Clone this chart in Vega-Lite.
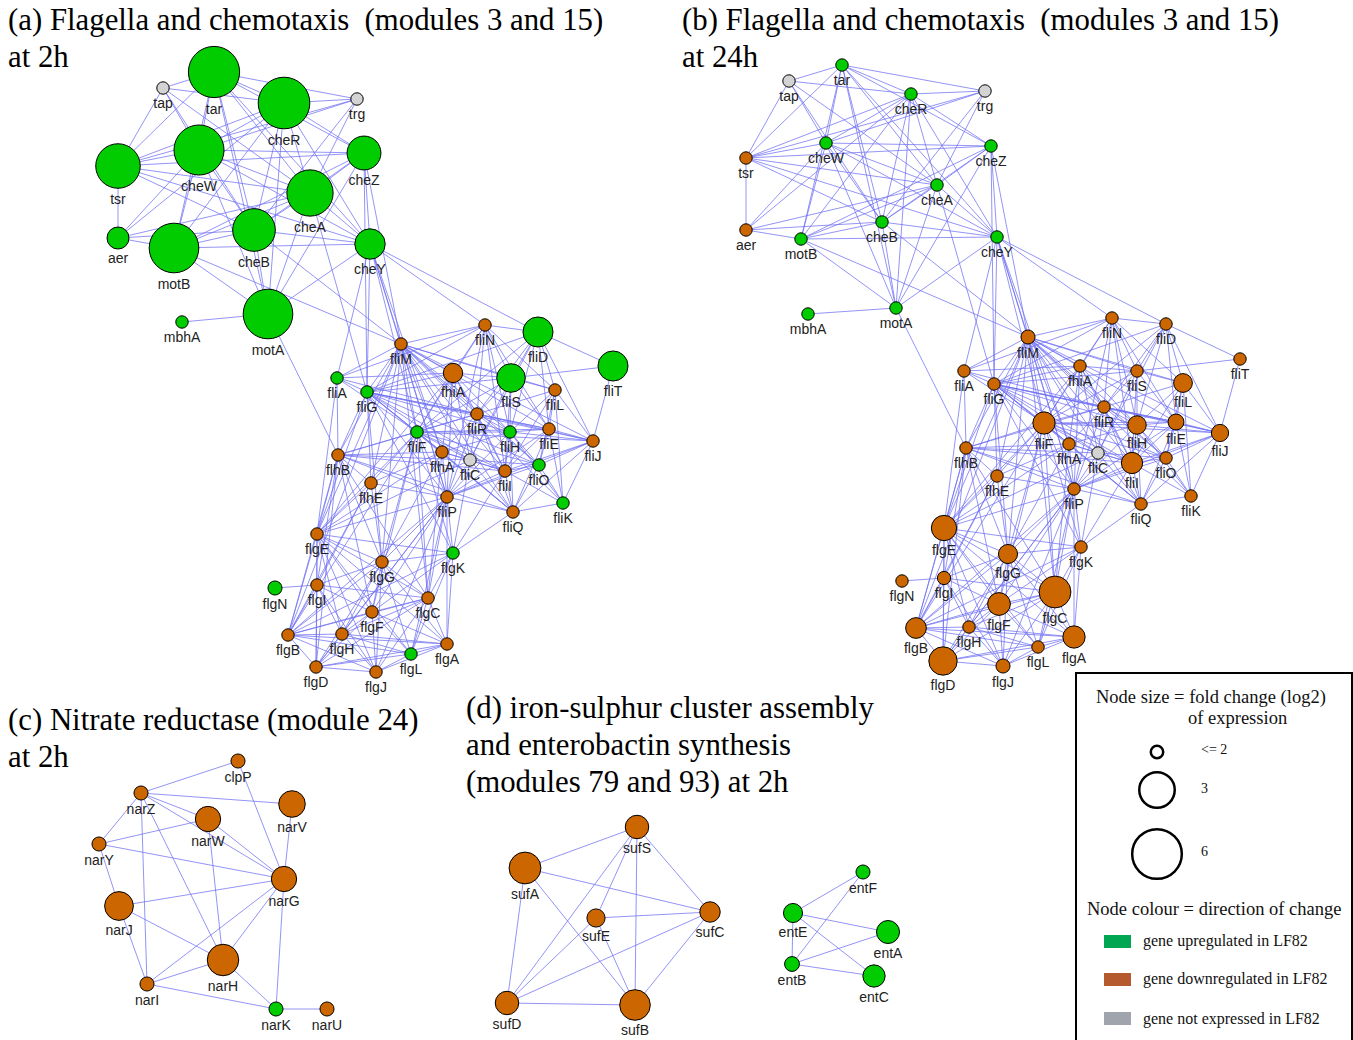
{
"$schema":"https://vega.github.io/schema/vega-lite/v6.json",
"width":1353,"height":1040,
"autosize":"none",
"padding":0,
"background":"white",
"config":{"view":{"stroke":null}},
"datasets":{
"nodes":[
{"id":"a_tap","x":163,"y":88,"fc":2,"c":"none"},
{"id":"a_tar","x":214,"y":72,"fc":6.4,"c":"up"},
{"id":"a_cheR","x":284,"y":103,"fc":6.5,"c":"up"},
{"id":"a_trg","x":357,"y":99,"fc":2,"c":"none"},
{"id":"a_cheW","x":199,"y":150,"fc":6.1,"c":"up"},
{"id":"a_tsr","x":118,"y":166,"fc":4.8,"c":"up"},
{"id":"a_cheZ","x":364,"y":153,"fc":2.9,"c":"up"},
{"id":"a_cheA","x":310,"y":193,"fc":5.2,"c":"up"},
{"id":"a_cheB","x":254,"y":230,"fc":4.4,"c":"up"},
{"id":"a_aer","x":118,"y":238,"fc":2.3,"c":"up"},
{"id":"a_motB","x":174,"y":248,"fc":6,"c":"up"},
{"id":"a_cheY","x":370,"y":244,"fc":2.7,"c":"up"},
{"id":"a_mbhA","x":182,"y":322,"fc":2,"c":"up"},
{"id":"a_motA","x":268,"y":314,"fc":6,"c":"up"},
{"id":"a_fliN","x":485,"y":325,"fc":2,"c":"down"},
{"id":"a_fliM","x":401,"y":344,"fc":2,"c":"down"},
{"id":"a_fliD","x":538,"y":332,"fc":2.68,"c":"up"},
{"id":"a_fliT","x":613,"y":366,"fc":2.68,"c":"up"},
{"id":"a_fliA","x":337,"y":378,"fc":2,"c":"up"},
{"id":"a_fliG","x":367,"y":392,"fc":2,"c":"up"},
{"id":"a_fhiA","x":453,"y":373,"fc":2.2,"c":"down"},
{"id":"a_fliS","x":511,"y":378,"fc":2.6,"c":"up"},
{"id":"a_fliL","x":555,"y":390,"fc":2,"c":"down"},
{"id":"a_fliR","x":477,"y":414,"fc":2,"c":"down"},
{"id":"a_fliF","x":417,"y":432,"fc":2,"c":"up"},
{"id":"a_fliH","x":510,"y":432,"fc":2,"c":"up"},
{"id":"a_fliE","x":549,"y":429,"fc":2,"c":"down"},
{"id":"a_fliJ","x":593,"y":441,"fc":2,"c":"down"},
{"id":"a_flhB","x":338,"y":455,"fc":2,"c":"down"},
{"id":"a_flhA","x":442,"y":452,"fc":2,"c":"down"},
{"id":"a_fliC","x":470,"y":460,"fc":2,"c":"none"},
{"id":"a_fliI","x":505,"y":471,"fc":2,"c":"down"},
{"id":"a_fliO","x":539,"y":465,"fc":2,"c":"up"},
{"id":"a_flhE","x":371,"y":483,"fc":2,"c":"down"},
{"id":"a_fliP","x":447,"y":497,"fc":2,"c":"down"},
{"id":"a_fliQ","x":513,"y":512,"fc":2,"c":"down"},
{"id":"a_fliK","x":563,"y":503,"fc":2,"c":"up"},
{"id":"a_flgE","x":317,"y":534,"fc":2,"c":"down"},
{"id":"a_flgK","x":453,"y":553,"fc":2,"c":"up"},
{"id":"a_flgG","x":382,"y":562,"fc":2,"c":"down"},
{"id":"a_flgN","x":275,"y":588,"fc":2.04,"c":"up"},
{"id":"a_flgI","x":317,"y":585,"fc":2,"c":"down"},
{"id":"a_flgC","x":428,"y":598,"fc":2,"c":"down"},
{"id":"a_flgF","x":372,"y":612,"fc":2,"c":"down"},
{"id":"a_flgB","x":288,"y":635,"fc":2,"c":"down"},
{"id":"a_flgH","x":342,"y":634,"fc":2,"c":"down"},
{"id":"a_flgA","x":447,"y":644,"fc":2,"c":"down"},
{"id":"a_flgL","x":411,"y":654,"fc":2,"c":"up"},
{"id":"a_flgD","x":316,"y":667,"fc":2,"c":"down"},
{"id":"a_flgJ","x":376,"y":672,"fc":2,"c":"down"},
{"id":"b_tar","x":842,"y":65,"fc":2,"c":"up"},
{"id":"b_tap","x":789,"y":81,"fc":2,"c":"none"},
{"id":"b_cheR","x":911,"y":94,"fc":2,"c":"up"},
{"id":"b_trg","x":985,"y":91,"fc":2,"c":"none"},
{"id":"b_cheW","x":826,"y":143,"fc":2,"c":"up"},
{"id":"b_tsr","x":746,"y":158,"fc":2,"c":"down"},
{"id":"b_cheZ","x":991,"y":146,"fc":2,"c":"up"},
{"id":"b_cheA","x":937,"y":185,"fc":2,"c":"up"},
{"id":"b_cheB","x":882,"y":222,"fc":2,"c":"up"},
{"id":"b_aer","x":746,"y":230,"fc":2,"c":"down"},
{"id":"b_motB","x":801,"y":239,"fc":2,"c":"up"},
{"id":"b_cheY","x":997,"y":237,"fc":2,"c":"up"},
{"id":"b_mbhA","x":808,"y":314,"fc":2,"c":"up"},
{"id":"b_motA","x":896,"y":308,"fc":2,"c":"up"},
{"id":"b_fliN","x":1112,"y":318,"fc":2,"c":"down"},
{"id":"b_fliD","x":1166,"y":324,"fc":2,"c":"down"},
{"id":"b_fliT","x":1240,"y":359,"fc":2,"c":"down"},
{"id":"b_fliM","x":1028,"y":337,"fc":2.04,"c":"down"},
{"id":"b_fliA","x":964,"y":371,"fc":2,"c":"down"},
{"id":"b_fliG","x":994,"y":384,"fc":2,"c":"down"},
{"id":"b_fhiA","x":1080,"y":366,"fc":2,"c":"down"},
{"id":"b_fliS","x":1137,"y":371,"fc":2,"c":"down"},
{"id":"b_fliL","x":1183,"y":383,"fc":2.18,"c":"down"},
{"id":"b_fliR","x":1104,"y":407,"fc":2,"c":"down"},
{"id":"b_fliF","x":1044,"y":423,"fc":2.31,"c":"down"},
{"id":"b_fliH","x":1137,"y":425,"fc":2.17,"c":"down"},
{"id":"b_fliE","x":1176,"y":422,"fc":2.09,"c":"down"},
{"id":"b_fliJ","x":1220,"y":433,"fc":2.13,"c":"down"},
{"id":"b_flhB","x":966,"y":448,"fc":2,"c":"down"},
{"id":"b_flhA","x":1069,"y":444,"fc":2,"c":"down"},
{"id":"b_fliC","x":1098,"y":453,"fc":2,"c":"none"},
{"id":"b_fliI","x":1132,"y":463,"fc":2.27,"c":"down"},
{"id":"b_fliO","x":1166,"y":458,"fc":2,"c":"down"},
{"id":"b_flhE","x":997,"y":476,"fc":2,"c":"down"},
{"id":"b_fliP","x":1074,"y":489,"fc":2,"c":"down"},
{"id":"b_fliQ","x":1141,"y":504,"fc":2,"c":"down"},
{"id":"b_fliK","x":1191,"y":496,"fc":2,"c":"down"},
{"id":"b_flgE","x":944,"y":528,"fc":2.44,"c":"down"},
{"id":"b_flgK","x":1081,"y":547,"fc":2,"c":"down"},
{"id":"b_flgG","x":1008,"y":554,"fc":2.19,"c":"down"},
{"id":"b_flgN","x":902,"y":581,"fc":2,"c":"down"},
{"id":"b_flgI","x":944,"y":578,"fc":2.02,"c":"down"},
{"id":"b_flgC","x":1055,"y":592,"fc":2.78,"c":"down"},
{"id":"b_flgF","x":999,"y":604,"fc":2.33,"c":"down"},
{"id":"b_flgB","x":916,"y":628,"fc":2.25,"c":"down"},
{"id":"b_flgH","x":969,"y":627,"fc":2,"c":"down"},
{"id":"b_flgA","x":1074,"y":637,"fc":2.31,"c":"down"},
{"id":"b_flgL","x":1038,"y":647,"fc":2,"c":"down"},
{"id":"b_flgD","x":943,"y":661,"fc":2.59,"c":"down"},
{"id":"b_flgJ","x":1003,"y":666,"fc":2.04,"c":"down"},
{"id":"c_clpP","x":238,"y":761,"fc":2.04,"c":"down"},
{"id":"c_narZ","x":141,"y":793,"fc":2.04,"c":"down"},
{"id":"c_narV","x":292,"y":804,"fc":2.5,"c":"down"},
{"id":"c_narW","x":208,"y":819,"fc":2.44,"c":"down"},
{"id":"c_narY","x":99,"y":844,"fc":2.04,"c":"down"},
{"id":"c_narG","x":284,"y":879,"fc":2.44,"c":"down"},
{"id":"c_narJ","x":119,"y":906,"fc":2.61,"c":"down"},
{"id":"c_narH","x":223,"y":960,"fc":2.76,"c":"down"},
{"id":"c_narI","x":147,"y":984,"fc":2.04,"c":"down"},
{"id":"c_narK","x":276,"y":1009,"fc":2.04,"c":"up"},
{"id":"c_narU","x":327,"y":1009,"fc":2.04,"c":"down"},
{"id":"d_sufS","x":637,"y":827,"fc":2.36,"c":"down"},
{"id":"d_sufA","x":525,"y":868,"fc":2.78,"c":"down"},
{"id":"d_sufE","x":596,"y":918,"fc":2.16,"c":"down"},
{"id":"d_sufC","x":710,"y":912,"fc":2.24,"c":"down"},
{"id":"d_sufD","x":507,"y":1003,"fc":2.36,"c":"down"},
{"id":"d_sufB","x":635,"y":1005,"fc":2.71,"c":"down"},
{"id":"d_entF","x":863,"y":872,"fc":2.04,"c":"up"},
{"id":"d_entE","x":793,"y":913,"fc":2.19,"c":"up"},
{"id":"d_entA","x":888,"y":932,"fc":2.34,"c":"up"},
{"id":"d_entB","x":792,"y":964,"fc":2.06,"c":"up"},
{"id":"d_entC","x":874,"y":976,"fc":2.31,"c":"up"}
],
"flagEdges":[
{"s":"tap","t":["tar","cheR","cheW","tsr","cheA","cheB"]},
{"s":"tar","t":["cheR","cheW","tsr","cheZ","cheA","cheB","cheY","motB","motA","trg"]},
{"s":"cheR","t":["trg","cheW","tsr","cheZ","cheA","cheB","cheY","motB","motA","aer"]},
{"s":"trg","t":["cheW","cheA","cheB","tsr"]},
{"s":"cheW","t":["tsr","cheZ","cheA","cheB","cheY","motB","motA","aer"]},
{"s":"tsr","t":["aer","cheA","cheB","cheY","cheZ"]},
{"s":"cheZ","t":["cheA","cheB","cheY","motB","motA","fliM","fliG"]},
{"s":"cheA","t":["cheB","cheY","motB","motA","aer","fliG"]},
{"s":"cheB","t":["cheY","motB","motA","aer","fliM"]},
{"s":"motB","t":["cheY","motA","aer","fliM"]},
{"s":"motA","t":["mbhA","cheY","flhB"]},
{"s":"cheY","t":["fliM","fliG","fliA","fliN","flhA","fliF","fliP","fliD"]},
{"s":"fliM","t":["fliN","fliA","fliG","fhiA","fliS","fliL","fliR","fliF","fliH","fliE","fliJ","flhB","flhA","fliC","fliI","fliO","flhE","fliP","fliQ","fliK","flgE","flgG","flgC","flgB"]},
{"s":"fliN","t":["fliD","fliS","fliL","fliG","fhiA","fliR","fliF","fliH","fliE","fliI","fliP","fliA"]},
{"s":"fliD","t":["fliT","fliS","fliL","fliE","fliJ","fliG","fliF","fliR","fliH","fliC"]},
{"s":"fliT","t":["fliS","fliJ"]},
{"s":"fliA","t":["fliG","flhB","fliF","fhiA","fliR","flgE"]},
{"s":"fliG","t":["fhiA","fliS","fliR","fliF","fliH","fliE","fliJ","flhB","flhA","fliC","fliI","fliO","flhE","fliP","fliQ","flgE","flgG","flgK"]},
{"s":"fhiA","t":["fliS","fliR","fliF","fliH","flhA","fliC","fliI","fliP","flgE"]},
{"s":"fliS","t":["fliL","fliR","fliH","fliE","fliC","fliI","fliF"]},
{"s":"fliL","t":["fliE","fliJ","fliH","fliI","fliK","fliO","fliR"]},
{"s":"fliR","t":["fliF","fliH","fliE","fliJ","flhA","fliC","fliI","fliO","fliP","fliQ","flhB"]},
{"s":"fliF","t":["fliH","fliE","flhB","flhA","fliC","fliI","fliO","flhE","fliP","fliQ","fliJ","flgE","flgG","flgB","flgC","flgK","flgF"]},
{"s":"fliH","t":["fliE","fliJ","fliI","fliO","fliP","fliQ","fliK","flhA"]},
{"s":"fliE","t":["fliJ","fliI","fliO","fliK","fliP","fliQ"]},
{"s":"fliJ","t":["fliI","fliO","fliK","fliQ","fliP"]},
{"s":"flhB","t":["flhA","flhE","fliP","flgE","flgI","flgB","flgG","flgC","flgD","flgF","fliC","fliI","fliQ"]},
{"s":"flhA","t":["fliC","fliP","fliI","flhE","flgE","flgG","flgC","fliQ"]},
{"s":"fliC","t":["fliI","fliP","fliQ","fliO","flgK","flgE"]},
{"s":"fliI","t":["fliO","fliP","fliQ","fliK","flgK"]},
{"s":"fliO","t":["fliQ","fliK","fliP"]},
{"s":"flhE","t":["fliP","flgE","flgG","flgB","flgI"]},
{"s":"fliP","t":["fliQ","flgE","flgK","flgG","flgC","flgF","flgB","flgH","flgJ","flgL","flgD","flgA"]},
{"s":"fliQ","t":["fliK","flgK"]},
{"s":"flgE","t":["flgG","flgI","flgC","flgF","flgB","flgH","flgD","flgJ","flgA","flgL","flgK"]},
{"s":"flgK","t":["flgG","flgC","flgA","flgF","flgL","flgB"]},
{"s":"flgG","t":["flgI","flgC","flgF","flgB","flgH","flgD","flgJ","flgL","flgA"]},
{"s":"flgN","t":["flgI"]},
{"s":"flgI","t":["flgC","flgF","flgB","flgH","flgD","flgJ"]},
{"s":"flgC","t":["flgF","flgB","flgH","flgD","flgJ","flgA","flgL"]},
{"s":"flgF","t":["flgB","flgH","flgD","flgJ","flgA","flgL"]},
{"s":"flgB","t":["flgH","flgD","flgJ","flgA","flgL"]},
{"s":"flgH","t":["flgD","flgJ","flgL","flgA"]},
{"s":"flgA","t":["flgD","flgJ","flgL"]},
{"s":"flgL","t":["flgD","flgJ"]},
{"s":"flgD","t":["flgJ"]}
],
"cdEdges":[
{"s":"c_narZ","t":["c_clpP","c_narV","c_narW","c_narG","c_narY","c_narI","c_narH"]},
{"s":"c_narY","t":["c_narW","c_narG","c_narJ"]},
{"s":"c_narW","t":["c_narG","c_narH"]},
{"s":"c_narV","t":["c_narG"]},
{"s":"c_clpP","t":["c_narG"]},
{"s":"c_narJ","t":["c_narG","c_narH","c_narI"]},
{"s":"c_narI","t":["c_narG","c_narH","c_narK"]},
{"s":"c_narH","t":["c_narG","c_narK"]},
{"s":"c_narG","t":["c_narK"]},
{"s":"c_narK","t":["c_narU"]},
{"s":"d_sufA","t":["d_sufS","d_sufC","d_sufD","d_sufB"]},
{"s":"d_sufS","t":["d_sufE","d_sufD","d_sufB","d_sufC"]},
{"s":"d_sufE","t":["d_sufC","d_sufD","d_sufB"]},
{"s":"d_sufC","t":["d_sufD","d_sufB"]},
{"s":"d_sufD","t":["d_sufB"]},
{"s":"d_entE","t":["d_entF","d_entA","d_entB","d_entC"]},
{"s":"d_entB","t":["d_entF","d_entA","d_entC"]}
],
"titles":[
{"t":"(a) Flagella and chemotaxis\u00a0 (modules 3 and 15)","x":8,"y":30},
{"t":"at 2h","x":8,"y":67},
{"t":"(b) Flagella and chemotaxis\u00a0 (modules 3 and 15)","x":682,"y":30},
{"t":"at 24h","x":682,"y":67},
{"t":"(c) Nitrate reductase (module 24)","x":8,"y":730},
{"t":"at 2h","x":8,"y":767},
{"t":"(d) iron-sulphur cluster assembly","x":466,"y":718},
{"t":"and enterobactin synthesis","x":466,"y":755},
{"t":"(modules 79 and 93) at 2h","x":466,"y":792}
],
"legText":[
{"k":"head","t":"Node size = fold change (log2)","x":1096,"y":703},
{"k":"head","t":"of expression","x":1188,"y":724},
{"k":"head","t":"Node colour = direction of change","x":1087,"y":915},
{"k":"item","t":"gene upregulated in LF82","x":1143,"y":946},
{"k":"item","t":"gene downregulated in LF82","x":1143,"y":984},
{"k":"item","t":"gene not expressed in LF82","x":1143,"y":1024},
{"k":"num","t":"<= 2","x":1201,"y":754},
{"k":"num","t":"3","x":1201,"y":793},
{"k":"num","t":"6","x":1201,"y":856}
]
},
"layer":[
{
"data":{"name":"flagEdges"},
"transform":[
{"flatten":["t"]},
{"calculate":"'a_'+datum.s","as":"sk"},
{"calculate":"'a_'+datum.t","as":"tk"},
{"lookup":"sk","from":{"data":{"name":"nodes"},"key":"id","fields":["x","y"]},"as":["x","y"]},
{"lookup":"tk","from":{"data":{"name":"nodes"},"key":"id","fields":["x","y"]},"as":["x2","y2"]}
],
"mark":{"type":"rule","color":"#7070f4","strokeWidth":1,"opacity":0.75},
"encoding":{
"x":{"field":"x","type":"quantitative","scale":{"domain":[0,1353],"nice":false,"zero":false},"axis":null},
"y":{"field":"y","type":"quantitative","scale":{"domain":[0,1040],"nice":false,"zero":false,"reverse":true},"axis":null},
"x2":{"field":"x2"},"y2":{"field":"y2"}
}
},
{
"data":{"name":"flagEdges"},
"transform":[
{"flatten":["t"]},
{"calculate":"'b_'+datum.s","as":"sk"},
{"calculate":"'b_'+datum.t","as":"tk"},
{"lookup":"sk","from":{"data":{"name":"nodes"},"key":"id","fields":["x","y"]},"as":["x","y"]},
{"lookup":"tk","from":{"data":{"name":"nodes"},"key":"id","fields":["x","y"]},"as":["x2","y2"]}
],
"mark":{"type":"rule","color":"#7070f4","strokeWidth":1,"opacity":0.75},
"encoding":{
"x":{"field":"x","type":"quantitative","axis":null},
"y":{"field":"y","type":"quantitative","axis":null},
"x2":{"field":"x2"},"y2":{"field":"y2"}
}
},
{
"data":{"name":"cdEdges"},
"transform":[
{"flatten":["t"]},
{"lookup":"s","from":{"data":{"name":"nodes"},"key":"id","fields":["x","y"]},"as":["x","y"]},
{"lookup":"t","from":{"data":{"name":"nodes"},"key":"id","fields":["x","y"]},"as":["x2","y2"]}
],
"mark":{"type":"rule","color":"#7070f4","strokeWidth":1,"opacity":0.75},
"encoding":{
"x":{"field":"x","type":"quantitative","axis":null},
"y":{"field":"y","type":"quantitative","axis":null},
"x2":{"field":"x2"},"y2":{"field":"y2"}
}
},
{
"data":{"name":"nodes"},
"mark":{"type":"circle","stroke":"#000000","strokeWidth":1,"opacity":1},
"encoding":{
"x":{"field":"x","type":"quantitative","axis":null},
"y":{"field":"y","type":"quantitative","axis":null},
"size":{"field":"fc","type":"quantitative","scale":{"type":"linear","domain":[2,3,6,9],"range":[154,1257,2463,3669],"zero":false},"legend":null},
"fill":{"field":"c","type":"nominal","scale":{"domain":["up","down","none"],"range":["#00cc00","#cc6600","#d3d3d3"]},"legend":null}
}
},
{
"data":{"name":"nodes"},
"transform":[
{"calculate":"datum.fc<=3 ? 154+(datum.fc-2)*1103 : 1257+(datum.fc-3)*402","as":"area"},
{"calculate":"datum.y+sqrt(datum.area/PI)+9","as":"ly"},
{"calculate":"slice(datum.id,2)","as":"lab"}
],
"mark":{"type":"text","font":"Liberation Sans","fontSize":14,"color":"#222222","align":"center","baseline":"middle"},
"encoding":{
"x":{"field":"x","type":"quantitative","axis":null},
"y":{"field":"ly","type":"quantitative","axis":null},
"text":{"field":"lab"}
}
},
{
"data":{"name":"titles"},
"mark":{"type":"text","font":"Liberation Serif","fontSize":30.8,"color":"#000000","align":"left","baseline":"alphabetic"},
"encoding":{
"x":{"field":"x","type":"quantitative","axis":null},
"y":{"field":"y","type":"quantitative","axis":null},
"text":{"field":"t"}
}
},
{
"data":{"values":[{"x":1076,"y":673,"x2":1352,"y2":1050}]},
"mark":{"type":"rect","fill":null,"fillOpacity":0,"stroke":"#000000","strokeWidth":2},
"encoding":{
"x":{"field":"x","type":"quantitative","axis":null},
"y":{"field":"y","type":"quantitative","axis":null},
"x2":{"field":"x2"},"y2":{"field":"y2"}
}
},
{
"data":{"values":[{"x":1157,"y":752,"fc":2},{"x":1157,"y":790,"fc":3},{"x":1157,"y":854,"fc":6}]},
"mark":{"type":"point","shape":"circle","filled":false,"stroke":"#000000","strokeWidth":2.5,"opacity":1},
"encoding":{
"x":{"field":"x","type":"quantitative","axis":null},
"y":{"field":"y","type":"quantitative","axis":null},
"size":{"field":"fc","type":"quantitative","legend":null}
}
},
{
"data":{"values":[{"c":"up","x":1104,"x2":1131,"y":935,"y2":948},{"c":"down","x":1104,"x2":1131,"y":973,"y2":986},{"c":"none","x":1104,"x2":1131,"y":1012,"y2":1025}]},
"mark":{"type":"rect"},
"encoding":{
"x":{"field":"x","type":"quantitative","axis":null},
"y":{"field":"y","type":"quantitative","axis":null},
"x2":{"field":"x2"},"y2":{"field":"y2"},
"color":{"field":"c","type":"nominal","scale":{"domain":["up","down","none"],"range":["#00a651","#b5592f","#a0a4ac"]},"legend":null}
}
},
{
"data":{"name":"legText"},
"transform":[{"filter":"datum.k=='head'"}],
"mark":{"type":"text","font":"Liberation Serif","fontSize":18.5,"color":"#111111","align":"left","baseline":"alphabetic"},
"encoding":{
"x":{"field":"x","type":"quantitative","axis":null},
"y":{"field":"y","type":"quantitative","axis":null},
"text":{"field":"t"}
}
},
{
"data":{"name":"legText"},
"transform":[{"filter":"datum.k=='item'"}],
"mark":{"type":"text","font":"Liberation Serif","fontSize":16,"color":"#111111","align":"left","baseline":"alphabetic"},
"encoding":{
"x":{"field":"x","type":"quantitative","axis":null},
"y":{"field":"y","type":"quantitative","axis":null},
"text":{"field":"t"}
}
},
{
"data":{"name":"legText"},
"transform":[{"filter":"datum.k=='num'"}],
"mark":{"type":"text","font":"Liberation Serif","fontSize":14,"color":"#111111","align":"left","baseline":"alphabetic"},
"encoding":{
"x":{"field":"x","type":"quantitative","axis":null},
"y":{"field":"y","type":"quantitative","axis":null},
"text":{"field":"t"}
}
}
],
"resolve":{"scale":{"color":"independent"}}
}
